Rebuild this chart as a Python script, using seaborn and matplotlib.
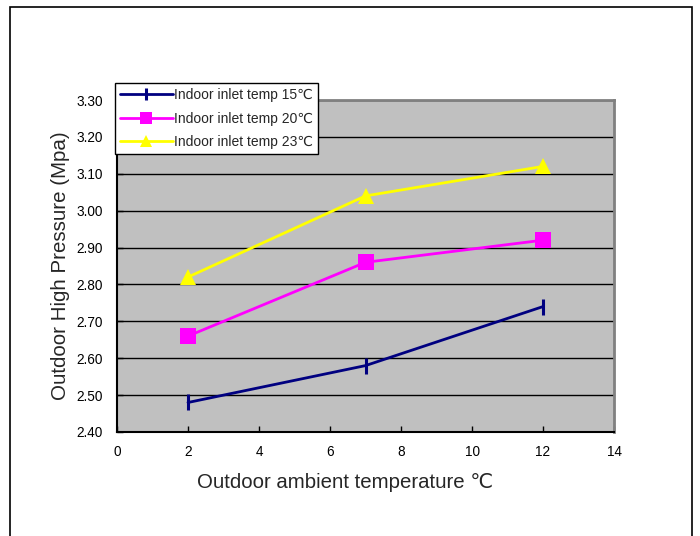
import matplotlib
matplotlib.use("Agg")
import matplotlib.pyplot as plt
import seaborn as sns
import pandas as pd
from matplotlib.patches import Rectangle

sns.set_style("ticks")
plt.rcParams['font.family'] = ['Liberation Sans', 'DejaVu Sans']

x_vals = [2, 7, 12]
series_names = ["Indoor inlet temp 15\u2103", "Indoor inlet temp 20\u2103", "Indoor inlet temp 23\u2103"]
p15 = [2.48, 2.58, 2.74]
p20 = [2.66, 2.86, 2.92]
p23 = [2.82, 3.04, 3.12]
x_ticks = [0, 2, 4, 6, 8, 10, 12, 14]
y_ticks = [2.40, 2.50, 2.60, 2.70, 2.80, 2.90, 3.00, 3.10, 3.20, 3.30]

df = pd.concat([
    pd.DataFrame({"x": x_vals, "y": p15, "series": series_names[0]}),
    pd.DataFrame({"x": x_vals, "y": p20, "series": series_names[1]}),
    pd.DataFrame({"x": x_vals, "y": p23, "series": series_names[2]}),
])

styles = {
    series_names[0]: dict(color="#000080", marker="|", ms=12, mew=2.2),
    series_names[1]: dict(color="#FF00FF", marker="s", ms=11, mew=0),
    series_names[2]: dict(color="#FFFF00", marker="^", ms=11, mew=0),
}

fig = plt.figure(figsize=(7.0, 5.36), dpi=100)
ax = fig.add_axes([117/700, 1-432/536, (614-117)/700, (432-100)/536])
ax.set_facecolor("#C0C0C0")

for name in series_names:
    st = styles[name]
    sns.lineplot(data=df[df["series"] == name], x="x", y="y", ax=ax,
                 color=st["color"], marker=st["marker"], markersize=st["ms"],
                 markeredgewidth=st["mew"], markeredgecolor=st["color"],
                 linewidth=2, label=name, zorder=3)

ax.set_xlim(0, 14)
ax.set_ylim(2.40, 3.30)
ax.set_xticks(x_ticks)
ax.set_yticks(y_ticks)
ax.set_yticklabels([f"{v:.2f}" for v in y_ticks])
ax.tick_params(axis="both", direction="in", length=4, width=1, labelsize=9.8, colors="black")
ax.tick_params(axis="x", pad=9)
ax.tick_params(axis="y", pad=10)
ax.yaxis.grid(True, color="black", linewidth=1)
ax.set_axisbelow(True)

for s in ["left", "bottom"]:
    ax.spines[s].set_color("black")
    ax.spines[s].set_linewidth(1.5)
for s in ["top", "right"]:
    ax.spines[s].set_color("#808080")
    ax.spines[s].set_linewidth(2)

ax.set_xlabel("Outdoor ambient temperature \u2103", fontsize=14.7)
ax.xaxis.set_label_coords((345-117)/497, (432-473)/332)
ax.set_ylabel("Outdoor High Pressure (Mpa)", fontsize=14.8, labelpad=5)

leg = ax.legend(loc="upper left", bbox_to_anchor=(115/700, 1-83/536),
                bbox_transform=fig.transFigure, frameon=True, fancybox=False,
                fontsize=10, handlelength=3.8, handletextpad=0.1,
                borderpad=0.35, labelspacing=0.7, borderaxespad=0,
                markerscale=0.75)
leg.get_frame().set_edgecolor("black")
leg.get_frame().set_linewidth(1)
leg.get_frame().set_facecolor("white")
leg.get_frame().set_alpha(1)
leg.set_zorder(5)

# outer frame box
fig.patches.append(Rectangle((10/700, -0.05), (692-10)/700, 1-7/536+0.05,
                             transform=fig.transFigure, fill=False,
                             edgecolor="black", linewidth=1.2))

fig.savefig("out.png", dpi=100)
